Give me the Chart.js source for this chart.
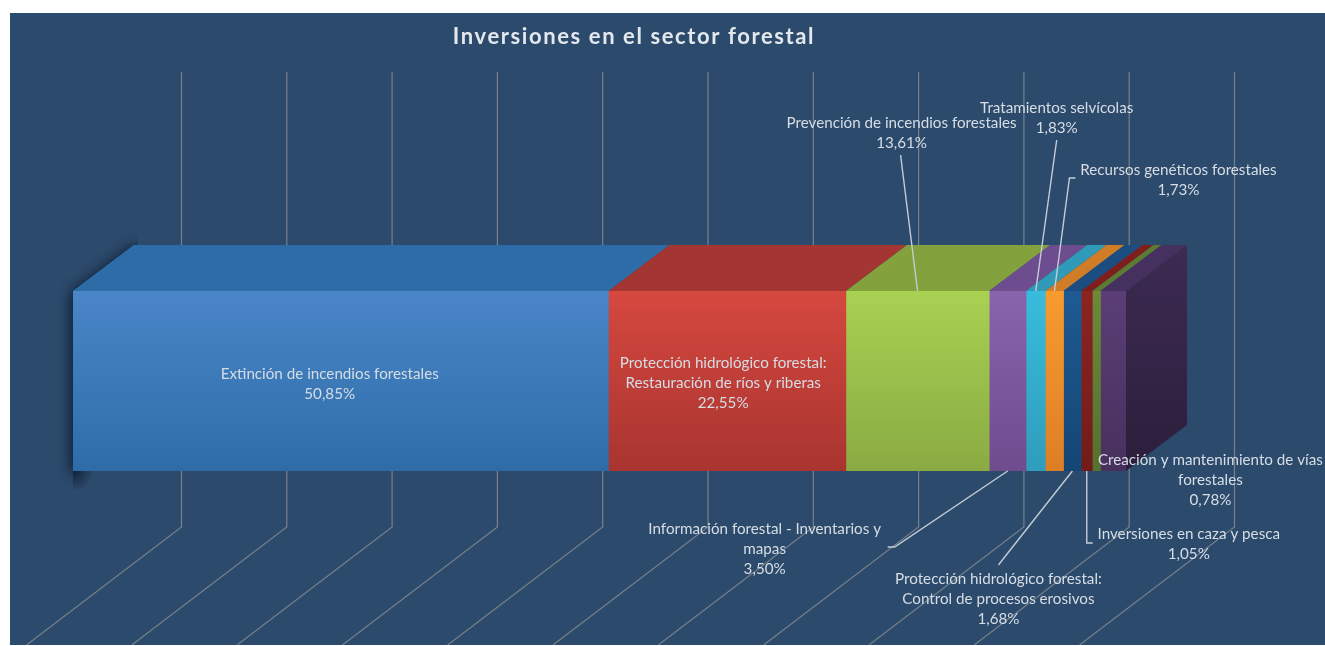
<!DOCTYPE html>
<html lang="es">
<head>
<meta charset="utf-8">
<title>Inversiones en el sector forestal</title>
<style>
    html, body { margin: 0; background: #fff; overflow: hidden; }
    #chart { position: absolute; left: 10px; top: 13px; background: #2c4a6c; }
</style>
</head>
<body>
<canvas id="chart" width="1315" height="632"></canvas>
<script src="https://cdn.jsdelivr.net/npm/chart.js@4/dist/chart.umd.min.js"></script>
<script>
const chartTitle = 'Inversiones en el sector forestal';
const categories = [
    'Extinción de incendios forestales',
    'Protección hidrológico forestal:\nRestauración de ríos y riberas',
    'Prevención de incendios forestales',
    'Información forestal - Inventarios y\nmapas',
    'Tratamientos selvícolas',
    'Recursos genéticos forestales',
    'Protección hidrológico forestal:\nControl de procesos erosivos',
    'Inversiones en caza y pesca',
    'Creación y mantenimiento de vías\nforestales',
    ''
];
const values = [50.85, 22.55, 13.61, 3.50, 1.83, 1.73, 1.68, 1.05, 0.78, 2.42];
const gridValues = [0, 10, 20, 30, 40, 50, 60, 70, 80, 90, 100];

const colorsLight = ['#4a86c8', '#d5483f', '#a9d152', '#8864ad', '#38bcdc', '#f79b2f', '#1f5a93', '#8c2422', '#6c8a39', '#5a3e75'];
const colorsDark = ['#2e6ca8', '#a93430', '#8aab43', '#6e4c8e', '#2f9dbb', '#dd7e25', '#144674', '#711c1a', '#56702e', '#48305e'];
const colorsTop = ['#2e6ca8', '#a33532', '#83a23e', '#6d4c8f', '#2f9bb8', '#d07d28', '#1c4d80', '#7f1f1d', '#5d7a32', '#453060'];

// donde va cada etiqueta, respecto al centro del segmento y de la barra
const labelOffsets = [
    [-11, -7], [-4, -18], [-16, -258], [-243, 148], [21, -273],
    [124, -211], [-74, 198], [102, 153], [114, 79], null
];
// lineas guia: borde de la barra donde salen y puntos relativos
const leaders = {
    2: { edge: 'top', pts: [[-17, -136]] },
    4: { edge: 'top', pts: [[21, -151]] },
    5: { edge: 'top', pts: [[15, -113], [21, -113]] },
    3: { edge: 'bottom', pts: [[-113, 76], [-120, 76]] },
    6: { edge: 'bottom', pts: [[-74, 94]] },
    7: { edge: 'bottom', pts: [[0, 72], [6, 72]] }
};

const depthX = 61, depthY = 46;
const wallDepthX = 108.5, wallUp = 219, wallDown = 56, floorX = 155, floorY = 118;
const textFont = '15.2px Lato';
const lineHeight = 20;

function polygon(ctx, pts) {
    ctx.beginPath();
    pts.forEach((p, i) => i ? ctx.lineTo(p[0], p[1]) : ctx.moveTo(p[0], p[1]));
    ctx.closePath();
}

function verticalGradient(ctx, a, b, top, bottom) {
    const grad = ctx.createLinearGradient(0, top, 0, bottom);
    grad.addColorStop(0, a);
    grad.addColorStop(1, b);
    return grad;
}

const box3d = {
    id: 'box3d',
    afterLayout(chart) {
        // el titulo no se centra sobre la barra, va sobre el lienzo
        const t = chart.titleBlock;
        t.left = 0;
        t.right = 1248;
        t.top = 13;
        t.bottom = 35;
    },
    beforeDraw(chart) {
        chart.ctx.letterSpacing = '1.6px';
    },
    beforeDatasetsDraw(chart) {
        const ctx = chart.ctx;
        const area = chart.chartArea;
        const xs = chart.scales.x;
        ctx.letterSpacing = '0px';

        // paredes y suelo
        ctx.save();
        ctx.strokeStyle = '#75818b';
        ctx.lineWidth = 1.2;
        gridValues.forEach(v => {
            const x = xs.getPixelForValue(v) + wallDepthX;
            const y = area.bottom + wallDown;
            ctx.beginPath();
            ctx.moveTo(x, area.top - wallUp);
            ctx.lineTo(x, y);
            ctx.lineTo(x - floorX, y + floorY);
            ctx.stroke();
        });
        ctx.restore();

        const x0 = xs.getPixelForValue(0);
        const x1 = xs.getPixelForValue(100);

        // sombra a la izquierda
        ctx.save();
        polygon(ctx, [[30, 200], [x0 + depthX + 4, 200], [x0 + depthX + 4, area.top], [x0, area.top], [x0, area.bottom + 40], [30, area.bottom + 40]]);
        ctx.clip();
        ctx.shadowColor = 'rgba(10, 22, 40, 0.95)';
        ctx.shadowBlur = 14;
        ctx.shadowOffsetX = -2;
        ctx.shadowOffsetY = 2;
        ctx.fillStyle = '#2e6ca8';
        polygon(ctx, [[x0, area.top], [x0 + depthX, area.top - depthY], [x1, area.top - depthY], [x1, area.bottom], [x0, area.bottom]]);
        ctx.fill();
        ctx.restore();

        // sombra debajo de la esquina
        const under = ctx.createRadialGradient(x0 + 1, area.bottom, 0, x0 + 1, area.bottom, 20);
        under.addColorStop(0, 'rgba(10, 22, 40, 0.75)');
        under.addColorStop(1, 'rgba(10, 22, 40, 0)');
        ctx.fillStyle = under;
        ctx.fillRect(x0, area.bottom, 24, 22);

        // cara superior
        values.forEach((v, i) => {
            const el = chart.getDatasetMeta(i).data[0];
            ctx.fillStyle = colorsTop[i];
            polygon(ctx, [[el.base, area.top], [el.x, area.top], [el.x + depthX, area.top - depthY], [el.base + depthX, area.top - depthY]]);
            ctx.fill();
        });

        // cara derecha
        ctx.fillStyle = verticalGradient(ctx, '#3d2b52', '#2c1e3c', area.top - depthY, area.bottom);
        polygon(ctx, [[x1, area.top], [x1 + depthX, area.top - depthY], [x1 + depthX, area.bottom - depthY], [x1, area.bottom]]);
        ctx.fill();
    },
    afterDatasetsDraw(chart) {
        const ctx = chart.ctx;
        const area = chart.chartArea;
        const midY = (area.top + area.bottom) / 2;
        ctx.save();
        ctx.strokeStyle = '#c3cdd6';
        ctx.lineWidth = 1.4;
        Object.keys(leaders).forEach(k => {
            const el = chart.getDatasetMeta(+k).data[0];
            const mid = (el.base + el.x) / 2;
            const y = leaders[k].edge === 'top' ? area.top : area.bottom;
            ctx.beginPath();
            ctx.moveTo(mid, y);
            leaders[k].pts.forEach(p => ctx.lineTo(mid + p[0], y + p[1]));
            ctx.stroke();
        });

        ctx.font = textFont;
        ctx.fillStyle = '#d6dde4';
        ctx.textAlign = 'center';
        ctx.textBaseline = 'middle';
        categories.forEach((name, i) => {
            if (!labelOffsets[i]) return;
            const el = chart.getDatasetMeta(i).data[0];
            const x = (el.base + el.x) / 2 + labelOffsets[i][0];
            const lines = name.split('\n').concat(values[i].toFixed(2).replace('.', ',') + '%');
            lines.forEach((line, n) => ctx.fillText(line, x, midY + labelOffsets[i][1] + n * lineHeight));
        });
        ctx.restore();
    }
};

new Chart(document.getElementById('chart'), {
    type: 'bar',
    data: {
        labels: [chartTitle],
        datasets: values.map((v, i) => ({
            label: categories[i].replace('\n', ' '),
            data: [v],
            backgroundColor: c => {
                const a = c.chart.chartArea;
                if (!a) return colorsLight[i];
                return verticalGradient(c.chart.ctx, colorsLight[i], colorsDark[i], a.top, a.bottom);
            },
            borderWidth: 0,
            barPercentage: 1,
            categoryPercentage: 1
        }))
    },
    options: {
        indexAxis: 'y',
        responsive: false,
        animation: false,
        layout: { padding: { left: 63, right: 199, top: 256, bottom: 174 } },
        scales: {
            x: { stacked: true, min: 0, max: 100, display: false },
            y: { stacked: true, display: false }
        },
        plugins: {
            legend: { display: false },
            tooltip: { enabled: false },
            title: {
                display: true,
                text: chartTitle,
                color: '#e3e8ed',
                padding: 0,
                font: { family: 'Lato', size: 22, weight: 'bold', lineHeight: 1 }
            }
        }
    },
    plugins: [box3d]
});
</script>
</body>
</html>
